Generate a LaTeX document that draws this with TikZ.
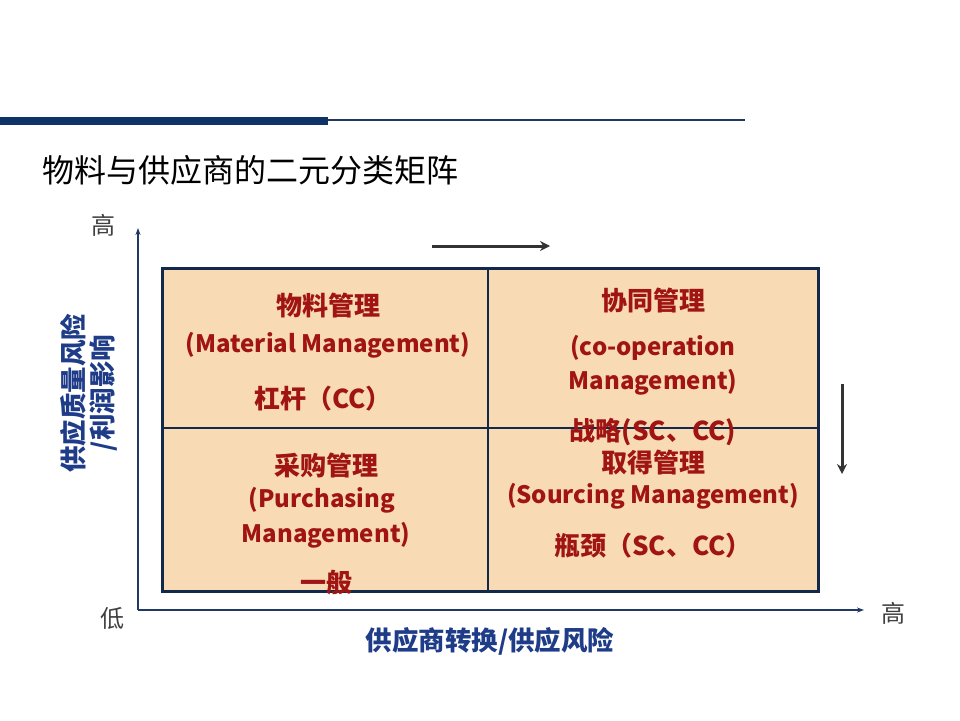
\documentclass[tikz,border=0pt]{standalone}
\usepackage{fontspec}
\setmainfont{Noto Sans CJK SC}
\usetikzlibrary{arrows.meta}
\definecolor{navy}{HTML}{0F3366}
\definecolor{boxfill}{HTML}{F8DBB5}
\definecolor{boxline}{HTML}{13294B}
\definecolor{redtxt}{HTML}{A01414}
\definecolor{bluetxt}{HTML}{1F3C88}
\definecolor{axisc}{HTML}{1F3864}
\tikzset{
  cell/.style={text=redtxt,font=\bfseries\fontsize{24}{28}\selectfont,inner sep=0pt,anchor=center},
  cellcn/.style={text=redtxt,font=\bfseries\fontsize{26}{28}\selectfont,inner sep=0pt,anchor=center},
  axlab/.style={text=bluetxt,font=\bfseries\fontsize{26.5}{29}\selectfont,inner sep=0pt},
  tick/.style={text=black!75,font=\fontsize{24}{28}\selectfont,inner sep=0pt},
  axis/.style={draw=axisc,line width=1.2pt,-{Stealth[length=7pt,width=5pt]}},
  dirarrow/.style={draw=black!80,line width=3pt,-{Stealth[length=10pt,width=10pt]}}
}
\begin{document}
\begin{tikzpicture}[x=1pt,y=-1pt]
\useasboundingbox (0,0) rectangle (960,720);
% header bars
\fill[navy] (0,117) rectangle (328,125);
\draw[axisc,line width=2pt] (328,120) -- (745,120);
% title
\node[anchor=west,inner sep=0pt,font=\fontsize{32}{36}\selectfont] (title) at (42,170) {物料与供应商的二元分类矩阵};
% matrix
\fill[boxfill] (162,268) rectangle (818,591);
\draw[boxline,line width=3pt] (162,268) rectangle (818,591);
\draw[boxline,line width=2.2pt] (488,268) -- (488,591);
\draw[boxline,line width=2.2pt] (162,428) -- (818,428);
% axes
\coordinate (origin) at (138,610);
\coordinate (ytop) at (138,228);
\coordinate (xend) at (864,610);
\draw[axis] (origin) -- (ytop);
\draw[axis] (origin) -- (xend);
\node[tick] (yhigh) at (103,225) {高};
\node[tick] (low) at (112,618) {低};
\node[tick] (xhigh) at (893,613) {高};
\node[axlab] (xlab) at (490,641) {供应商转换/供应风险};
\node[axlab,rotate=90,align=center] (ylab) at (89,393) {供应质量风险\\/利润影响};
% direction arrows
\coordinate (ha) at (432,246);
\coordinate (hb) at (550,246);
\draw[dirarrow] (ha) -- (hb);
\coordinate (va) at (842,384);
\coordinate (vb) at (842,474);
\draw[dirarrow] (va) -- (vb);
% top-left
\node[cellcn] (tl1) at (328,306) {物料管理};
\node[cell] (tl2) at (328,345) {(Material Management)};
\node[cellcn] (tl3) at (323,399) {杠杆（CC）};
% top-right
\node[cellcn] (tr1) at (653,301) {协同管理};
\node[cell] (tr2) at (653,348) {(co-operation};
\node[cell] (tr3) at (653,382) {Management)};
\node[cellcn] (tr4) at (653,432) {战略(SC、CC)};
% bottom-left
\node[cellcn] (bl1) at (326,466) {采购管理};
\node[cell] (bl2) at (322,500) {(Purchasing};
\node[cell] (bl3) at (326,535) {Management)};
\node[cellcn] (bl4) at (326,583) {一般};
% bottom-right
\node[cellcn] (br1) at (653,463) {取得管理};
\node[cell] (br2) at (653,496) {(Sourcing Management)};
\node[cellcn] (br3) at (653,546) {瓶颈（SC、CC）};
\end{tikzpicture}
\end{document}
